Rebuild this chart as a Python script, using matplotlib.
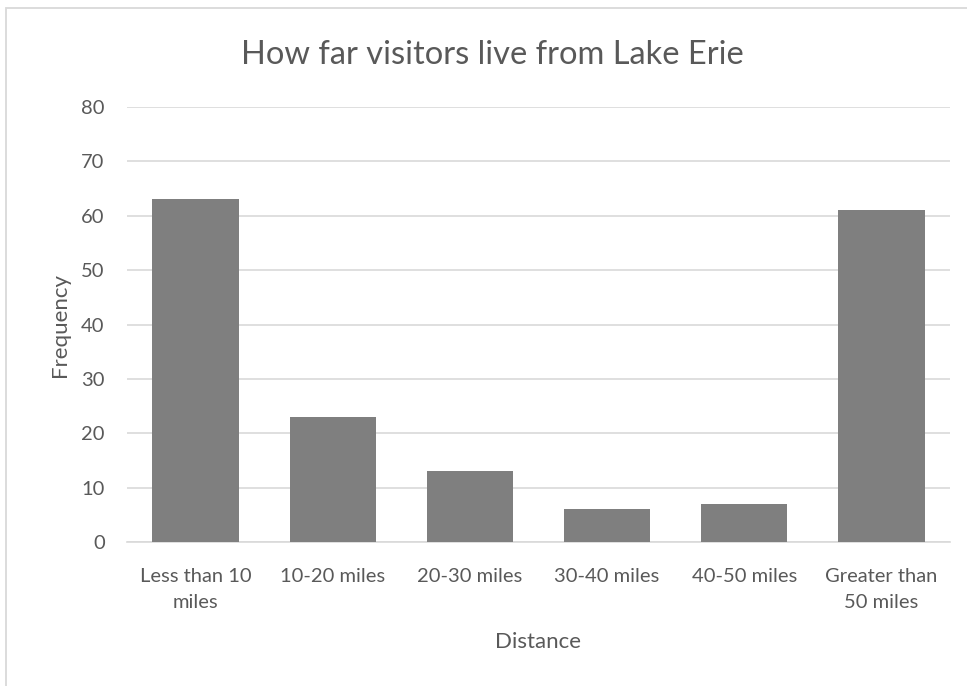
import matplotlib.pyplot as plt
from matplotlib.patches import Rectangle

categories = ["Less than 10\nmiles", "10-20 miles", "20-30 miles",
              "30-40 miles", "40-50 miles", "Greater than\n50 miles"]
frequencies = [63, 23, 13, 6, 7, 61]
y_ticks = [0, 10, 20, 30, 40, 50, 60, 70, 80]

plt.rcParams["font.family"] = ["Lato", "DejaVu Sans"]
TEXT = "#595959"

fig = plt.figure(figsize=(9.67, 6.86), dpi=100)
ax = fig.add_axes([0.1313, 0.2099, 0.8511, 0.6341])

# chart border (only left/top visible in the crop)
fig.add_artist(Rectangle((6 / 967, -0.1), 1.2, 0.1 + (686 - 8) / 686,
                         transform=fig.transFigure, fill=False,
                         edgecolor="#d9d9d9", linewidth=1.3))

x = range(len(categories))
ax.bar(x, frequencies, width=0.63, color="#7f7f7f", zorder=3)

ax.set_xlim(-0.5, len(categories) - 0.5)
ax.set_ylim(0, 80)
ax.set_yticks(y_ticks)
ax.set_xticks(list(x))
ax.set_xticklabels(categories, fontsize=14.5, color=TEXT, linespacing=1.65)
ax.tick_params(axis="y", labelsize=14.5, labelcolor=TEXT, length=0, pad=16)
ax.tick_params(axis="x", length=0, pad=19)
ax.grid(axis="y", color="#d9d9d9", linewidth=1.2, zorder=0)

for side in ["top", "right", "left"]:
    ax.spines[side].set_visible(False)
ax.spines["bottom"].set_color("#d9d9d9")
ax.spines["bottom"].set_linewidth(1.2)

ax.set_xlabel("Distance", fontsize=16, color=TEXT, labelpad=15)
ax.set_ylabel("Frequency", fontsize=16, color=TEXT, labelpad=8)
fig.text(0.509, 0.92, "How far visitors live from Lake Erie",
         ha="center", va="center", fontsize=23.5, color=TEXT)

fig.savefig("out.png", dpi=100)
